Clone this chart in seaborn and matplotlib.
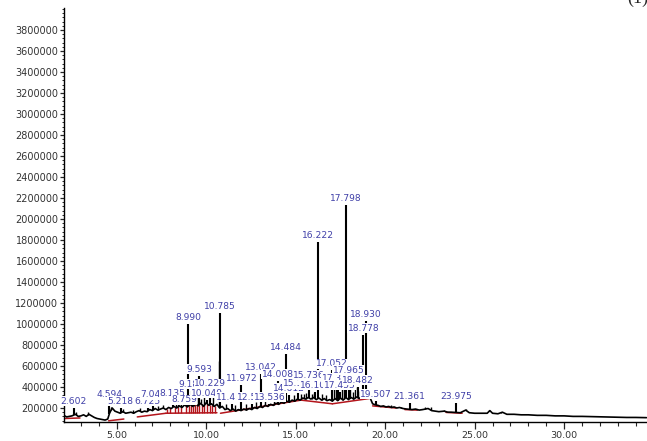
import numpy as np
import matplotlib
matplotlib.use("Agg")
import matplotlib.pyplot as plt
import seaborn as sns
from matplotlib.ticker import FixedLocator, MultipleLocator, FuncFormatter

# detector signal (time in min, abundance in thousands)
trace_t = [2.05, 2.2, 2.35, 2.5, 2.7, 2.85, 3.0, 3.15, 3.3, 3.45,
           3.6, 3.75, 3.9, 4.05, 4.2, 4.35, 4.5, 4.6, 4.75, 4.9,
           5.05, 5.2, 5.35, 5.5, 5.65, 5.8, 5.95, 6.1, 6.25, 6.4,
           6.55, 6.7, 6.85, 7.0, 7.15, 7.3, 7.45, 7.6, 7.75, 7.9,
           8.05, 8.2, 8.35, 8.5, 8.65, 8.8, 8.95, 9.1, 9.25, 9.4,
           9.55, 9.7, 9.85, 10.0, 10.15, 10.3, 10.45, 10.6, 10.75, 10.9,
           11.05, 11.2, 11.35, 11.5, 11.65, 11.8, 11.95, 12.1, 12.25, 12.4,
           12.55, 12.7, 12.85, 13.0, 13.15, 13.3, 13.45, 13.6, 13.75, 13.9,
           14.05, 14.2, 14.35, 14.5, 14.65, 14.8, 14.95, 15.1, 15.25, 15.4,
           15.55, 15.7, 15.85, 16.0, 16.15, 16.3, 16.45, 16.6, 16.75, 16.9,
           17.05, 17.2, 17.35, 17.5, 17.65, 17.8, 17.95, 18.1, 18.25, 18.4,
           18.55, 18.7, 18.85, 19.0, 19.15, 19.3, 19.45, 19.6, 19.75, 19.9,
           20.05, 20.2, 20.35, 20.5, 20.65, 20.8, 21.0, 21.2, 21.5, 21.7,
           21.9, 22.1, 22.4, 22.6, 22.8, 23.0, 23.3, 23.5, 23.7, 24.2,
           24.5, 24.7, 25.0, 25.4, 25.7, 25.85, 26.0, 26.3, 26.55, 26.8,
           27.2, 27.6, 28.0, 28.5, 29.0, 29.5, 30.0, 30.5, 31.0, 31.5,
           32.0, 32.5, 33.0, 33.5, 34.0, 34.6]
trace_k = [130, 115, 120, 125, 140, 120, 125, 135, 120, 140,
           125, 110, 100, 95, 90, 85, 95, 150, 200, 170,
           160, 150, 165, 150, 155, 160, 150, 165, 175, 160,
           170, 165, 185, 175, 195, 180, 190, 200, 185, 205,
           195, 215, 200, 220, 205, 230, 210, 235, 215, 240,
           220, 245, 215, 250, 225, 240, 215, 235, 200, 215,
           185, 195, 175, 190, 170, 185, 175, 190, 180, 195,
           185, 205, 195, 215, 205, 225, 215, 235, 225, 245,
           235, 255, 245, 265, 255, 275, 265, 285, 275, 295,
           285, 300, 285, 300, 280, 295, 275, 290, 270, 280,
           265, 290, 270, 295, 275, 300, 280, 300, 285, 305,
           290, 310, 295, 305, 300, 240, 230, 225, 215, 220,
           210, 215, 205, 210, 200, 205, 195, 190, 185, 190,
           180, 185, 195, 175, 170, 165, 170, 160, 160, 155,
           180, 155, 150, 150, 150, 175, 150, 145, 160, 140,
           140, 135, 135, 130, 130, 125, 125, 120, 120, 118,
           115, 115, 112, 110, 110, 108]

# integrated peaks: retention time and apex (thousands)
peak_rt = [2.602, 4.594, 5.218, 6.725, 7.044, 8.135, 8.759, 8.990, 9.185, 9.593,
           10.049, 10.229, 10.785, 11.416, 11.972, 12.583, 13.042, 13.536, 14.008, 14.484,
           14.612, 15.152, 15.736, 16.108, 16.222, 17.052, 17.352, 17.455, 17.798, 17.965,
           18.482, 18.778, 18.930, 19.507, 21.361, 23.975]
peak_k = [200, 270, 200, 200, 265, 280, 215, 1000, 365, 505,
          280, 370, 1105, 240, 420, 240, 525, 240, 460, 715,
          325, 370, 450, 355, 1780, 560, 420, 355, 2130, 495,
          400, 895, 1030, 270, 248, 248]

# unlabelled spikes
minor_rt = [2.75, 3.4, 4.7, 5.35, 5.9, 6.3, 7.3, 7.6, 8.3, 8.45,
            8.6, 8.85, 9.05, 9.3, 9.45, 9.7, 9.9, 10.4, 10.7, 11.1,
            11.6, 12.2, 12.8, 13.3, 13.8, 14.2, 14.9, 15.3, 15.45, 15.6,
            15.9, 16.0, 16.45, 16.7, 17.15, 17.25, 17.6, 17.7, 18.05, 18.2,
            18.3, 18.6, 19.0, 20.3, 20.9, 22.25, 22.55, 23.3, 24.5, 25.8, 26.5]
minor_k = [165, 160, 210, 195, 185, 200, 215, 230, 260, 250,
           270, 300, 290, 300, 320, 290, 320, 300, 650, 240,
           230, 240, 260, 270, 290, 300, 320, 330, 330, 340,
           330, 345, 330, 320, 440, 400, 430, 380, 420, 350,
           400, 360, 330, 225, 210, 205, 210, 180, 190, 180, 165]

# integration baselines (start t, start k, end t, end k)
base_t0 = [2.1, 4.55, 6.15, 7.75, 10.8, 15.3, 17.05, 19.3, 21.1, 23.4]
base_k0 = [100, 78, 115, 150, 150, 275, 240, 220, 185, 158]
base_t1 = [2.95, 5.4, 7.75, 10.6, 15.3, 17.05, 19.1, 20.6, 21.8, 24.3]
base_k1 = [105, 95, 150, 155, 275, 240, 290, 200, 180, 150]

# drop lines of the integrated cluster
drop_t = [7.8, 8.0, 8.25, 8.45, 8.6, 8.9, 9.05, 9.15, 9.28, 9.4,
          9.5, 9.62, 9.75, 9.9, 10.05, 10.2, 10.35, 10.5]
drop_base_k = 152

y_ticks = list(range(200000, 3800001, 200000))
x_ticks = [5, 10, 15, 20, 25, 30]

sns.set_style("white")
plt.rcParams["font.family"] = ["DejaVu Sans"]

t = np.array(trace_t)
v = np.array(trace_k) * 1000
red = "#b3141b"
blue = "#4040a8"

fig = plt.figure(figsize=(6.47, 4.41), dpi=100)
ax = fig.add_axes([64 / 647, 1 - 421.7 / 441, 1 - 64 / 647, (421.7 - 8) / 441])

# red integration marks
for a, b, c, d in zip(base_t0, base_k0, base_t1, base_k1):
    ax.plot([a, c], [b * 1000, d * 1000], color=red, lw=1.1, zorder=2)
ax.vlines(drop_t, drop_base_k * 1000, np.interp(drop_t, t, v), color=red, lw=1.0, zorder=2)

sns.lineplot(x=t, y=v, color="black", lw=1.2, ax=ax, estimator=None, zorder=3)
ax.vlines(minor_rt, np.interp(minor_rt, t, v), np.array(minor_k) * 1000,
          color="black", lw=1.0, zorder=3)
ax.vlines(peak_rt, np.interp(peak_rt, t, v), np.array(peak_k) * 1000,
          color="black", lw=1.5, zorder=3)

for i, (rt, h) in enumerate(zip(peak_rt, peak_k)):
    ax.annotate(f"{rt:.3f}", (rt, h * 1000), xytext=(0, 1.5), textcoords="offset points",
                ha="center", va="bottom", fontsize=6.6, color=blue,
                bbox=dict(facecolor="white", edgecolor="none", pad=0.3),
                zorder=10 + i)

ax.set_xlim(2.056, 34.63)
ax.set_ylim(69500, 4009600)
ax.xaxis.set_major_locator(FixedLocator(x_ticks))
ax.xaxis.set_minor_locator(MultipleLocator(1))
ax.xaxis.set_major_formatter(FuncFormatter(lambda x, p: f"{x:.2f}"))
ax.yaxis.set_major_locator(FixedLocator(y_ticks))
ax.yaxis.set_minor_locator(MultipleLocator(40000))
ax.yaxis.set_major_formatter(FuncFormatter(lambda y, p: f"{int(round(y))}"))

ax.tick_params(axis="x", which="major", direction="out", length=5, width=0.9,
               labelsize=6.8, labelcolor="#333333", pad=2, bottom=True)
ax.tick_params(axis="x", which="minor", direction="out", length=3, width=0.8, bottom=True)
ax.tick_params(axis="y", which="major", direction="out", length=3, width=0.9,
               labelsize=7, labelcolor="#333333", pad=1, left=True)
ax.tick_params(axis="y", which="minor", direction="out", length=1.6, width=0.7, left=True)

for s in ["top", "right"]:
    ax.spines[s].set_visible(False)
for s in ["left", "bottom"]:
    ax.spines[s].set_color("black")
    ax.spines[s].set_linewidth(1.0)
ax.set_xlabel("")
ax.set_ylabel("")

# panel tag, partly cut by the top edge as in the source
fig.text(0.969, 1.004, "(1)", family="Liberation Serif", fontsize=13, va="center", ha="left")

fig.savefig("out.png", dpi=100)
